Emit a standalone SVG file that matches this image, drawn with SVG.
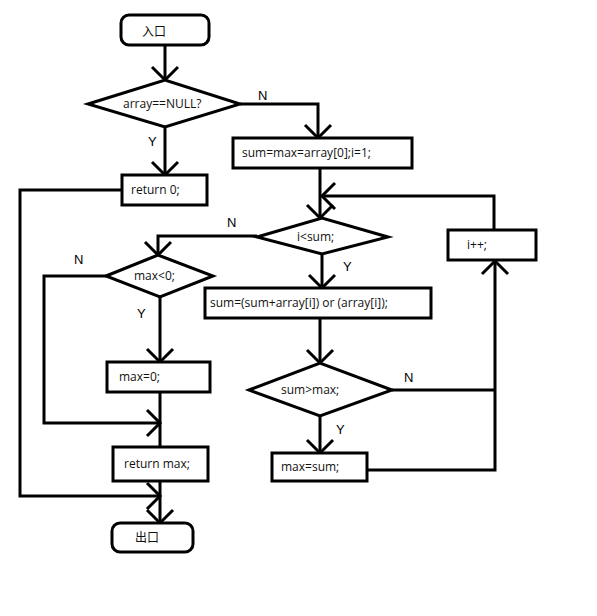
<svg xmlns="http://www.w3.org/2000/svg" width="597" height="616" viewBox="0 0 597 616">
<defs>
<marker id="arr" markerUnits="userSpaceOnUse" markerWidth="30" markerHeight="30" viewBox="-15 -15 30 30" refX="0" refY="0" orient="auto">
<path d="M-13,-13 L0,0 L-13,13" fill="none" stroke="#000" stroke-width="3"/>
</marker>
</defs>
<style>
.s{fill:#fff;stroke:#000;stroke-width:3}
.c{fill:none;stroke:#000;stroke-width:3}
.t{font-family:"Open Sans","Liberation Sans",Arial,"Noto Sans CJK SC",sans-serif;font-size:12px;fill:#111}
.l{font-family:"Liberation Sans",Arial,sans-serif;font-size:13px;fill:#000}
</style>
<rect width="597" height="616" fill="#fff"/>
<g id="connectors">
<path class="c" d="M165,45 V80" marker-end="url(#arr)"/>
<path class="c" d="M240,104 H318 V138" marker-end="url(#arr)"/>
<path class="c" d="M165,127 V175" marker-end="url(#arr)"/>
<path class="c" d="M122,190 H20 V496 H160" marker-end="url(#arr)"/>
<path class="c" d="M320,168 V218" marker-end="url(#arr)"/>
<path class="c" d="M494,230 V196 H322" marker-end="url(#arr)"/>
<path class="c" d="M257,236 H158 V255" marker-end="url(#arr)"/>
<path class="c" d="M106,276 H44 V423 H160" marker-end="url(#arr)"/>
<path class="c" d="M160,297 V362" marker-end="url(#arr)"/>
<path class="c" d="M160,392 V447"/>
<path class="c" d="M160,481 V523" marker-end="url(#arr)"/>
<path class="c" d="M322,254 V288" marker-end="url(#arr)"/>
<path class="c" d="M320,318 V363" marker-end="url(#arr)"/>
<path class="c" d="M392,390 H495"/>
<path class="c" d="M367,470 H495 V261" marker-end="url(#arr)"/>
<path class="c" d="M320,416 V453" marker-end="url(#arr)"/>
<text class="l" x="258" y="100">N</text>
<text class="l" x="148" y="146">Y</text>
<text class="l" x="227" y="227">N</text>
<text class="l" x="343" y="271">Y</text>
<text class="l" x="74" y="264">N</text>
<text class="l" x="137" y="318">Y</text>
<text class="l" x="404" y="382">N</text>
<text class="l" x="336" y="434">Y</text>
</g>
<g id="start"><rect class="s" x="121" y="15" width="88" height="30" rx="8"/><text class="t" x="142" y="36">入口</text></g>
<g id="null-check"><polygon class="s" points="88,104 165,80 240,104 165,127"/><text class="t" x="123" y="108">array==NULL?</text></g>
<g id="init"><rect class="s" x="233" y="138" width="179" height="30"/><text class="t" x="242" y="157">sum=max=array[0];i=1;</text></g>
<g id="return0"><rect class="s" x="122" y="175" width="85" height="30"/><text class="t" x="131" y="194">return 0;</text></g>
<g id="loop-check"><polygon class="s" points="257,237 322,218 388,237 322,254"/><text class="t" x="297" y="241">i&lt;sum;</text></g>
<g id="inc"><rect class="s" x="448" y="230" width="88" height="30"/><text class="t" x="467" y="249">i++;</text></g>
<g id="max-check"><polygon class="s" points="106,276 158,255 213,276 160,297"/><text class="t" x="134" y="280">max&lt;0;</text></g>
<g id="update-sum"><rect class="s" x="205" y="288" width="226" height="30"/><text class="t" x="210" y="307">sum=(sum+array[i]) or (array[i]);</text></g>
<g id="max-zero"><rect class="s" x="107" y="362" width="103" height="30"/><text class="t" x="119" y="381">max=0;</text></g>
<g id="cmp"><polygon class="s" points="249,390 320,363 392,390 320,416"/><text class="t" x="281" y="394">sum&gt;max;</text></g>
<g id="set-max"><rect class="s" x="272" y="453" width="95" height="28"/><text class="t" x="281" y="471">max=sum;</text></g>
<g id="return-max"><rect class="s" x="113" y="447" width="95" height="34"/><text class="t" x="124" y="468">return max;</text></g>
<g id="end"><rect class="s" x="112" y="523" width="81" height="29" rx="8"/><text class="t" x="135" y="542">出口</text></g>
</svg>
